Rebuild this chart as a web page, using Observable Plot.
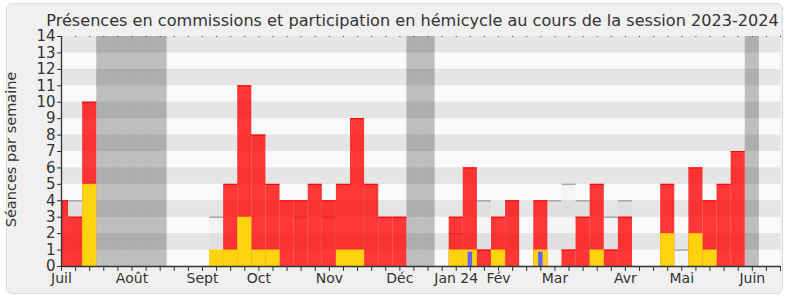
<!DOCTYPE html>
<html><head><meta charset="utf-8">
<script src="https://cdn.jsdelivr.net/npm/d3@7"></script>
<script src="https://cdn.jsdelivr.net/npm/@observablehq/plot@0.6"></script>
<style>
body{margin:0;background:#fff;font-family:"DejaVu Sans",sans-serif;}
#panel{position:absolute;left:6px;top:3px;width:775px;height:289px;background:#f0f0f0;border:1px solid #dcdcdc;border-radius:6px;}
#title{position:absolute;left:0;width:825px;top:12px;text-align:center;font-size:16.1px;color:#333;line-height:18px;white-space:nowrap;}
#chart{position:absolute;left:0;top:0;}
</style></head><body>
<div id="panel"></div>
<div id="title">Présences en commissions et participation en hémicycle au cours de la session 2023-2024</div>
<div id="chart"></div>
<script>
// Week index (0 = first week of July 2023)
const monthWeeks  = [0, 5, 10, 14, 19, 24, 28, 31, 35, 40, 44, 49];
const monthLabels = ["Juil", "Août", "Sept", "Oct", "Nov", "Déc", "Jan 24", "Fév", "Mar", "Avr", "Mai", "Juin"];
const vacationWeeks = [3, 4, 5, 6, 7, 25, 26, 49];

const commissionWeeks  = [0, 1, 2, 12, 13, 14, 15, 16, 17, 18, 19, 20, 21, 22, 23, 24, 28, 29, 30, 31, 32, 34, 36, 37, 38, 39, 40, 43, 45, 46, 47, 48];
const commissionValues = [4, 3, 10, 5, 11, 8, 5, 4, 4, 5, 4, 5, 9, 5, 3, 3, 3, 6, 1, 3, 4, 4, 1, 3, 5, 1, 3, 5, 6, 4, 5, 7];

const hemicycleWeeks  = [2, 11, 12, 13, 14, 15, 20, 21, 28, 29, 31, 34, 38, 43, 45, 46];
const hemicycleValues = [5, 1, 1, 3, 1, 1, 1, 1, 1, 1, 1, 1, 1, 2, 2, 1];

const questionWeeks  = [29, 34];
const questionValues = [1, 1];

const medianWeeks  = [1, 11, 17, 19, 28, 30, 35, 36, 37, 39, 40, 44];
const medianValues = [4, 3, 3, 3, 2, 4, 4, 5, 4, 3, 4, 1];

const yTicks = d3.range(0, 15);
const allWeeks = d3.range(0, 52);

const zip = (ws, vs) => ws.map((w, i) => ({w, v: vs[i]}));
const commission = zip(commissionWeeks, commissionValues);
const hemicycle = zip(hemicycleWeeks, hemicycleValues);
const questions = zip(questionWeeks, questionValues);
const median = zip(medianWeeks, medianValues);
const bands = d3.range(0, 14).map(k => ({k}));

const chart = Plot.plot({
  width: 790, height: 300,
  marginLeft: 61, marginRight: 10, marginTop: 36, marginBottom: 34,
  x: {domain: [0, 51]},
  y: {domain: [0, 14]},
  style: {background: "transparent", fontFamily: "DejaVu Sans", fontSize: "14px", color: "#333", overflow: "visible"},
  marks: [
    Plot.rect(bands.filter(d => d.k % 2 === 0), {y1: d => d.k, y2: d => d.k + 1, fill: "#fafafa"}),
    Plot.rect(bands.filter(d => d.k % 2 === 1), {y1: d => d.k, y2: d => d.k + 1, fill: "#e5e5e5"}),
    Plot.rect(vacationWeeks, {x1: d => d - 0.5, x2: d => d + 0.5, fill: "#000", fillOpacity: 0.24}),
    Plot.rect(median, {x1: d => d.w - 0.5, x2: d => d.w + 0.5, y1: 0, y2: "v", fill: "#000", fillOpacity: 0.022}),
    Plot.ruleY(median, {y: "v", x1: d => d.w - 0.5, x2: d => d.w + 0.5, stroke: "#a8a8a8", strokeWidth: 1.5}),
    Plot.rect(commission, {x1: d => d.w - 0.5, x2: d => d.w + 0.5, y1: 0, y2: "v", fill: "#ff0000", fillOpacity: 0.78, clip: true}),
    Plot.ruleY(commission, {y: "v", x1: d => d.w - 0.5, x2: d => d.w + 0.5, stroke: "#ff0000", strokeWidth: 1, clip: true}),
    Plot.rect(hemicycle, {x1: d => d.w - 0.5, x2: d => d.w + 0.5, y1: 0, y2: "v", fill: "#ffd30d"}),
    Plot.rect(questions, {x1: d => d.w - 0.16, x2: d => d.w + 0.16, y1: 0, y2: "v", insetTop: 2, fill: "#6464ff"}),
    Plot.axisX({ticks: allWeeks, tickSize: 5, tickFormat: () => "", label: null, stroke: "#333"}),
    Plot.axisX({anchor: "top", ticks: allWeeks, tickSize: 1, tickFormat: () => "", label: null, stroke: "#333"}),
    Plot.axisX({ticks: monthWeeks, tickSize: 0, tickPadding: 7, tickFormat: d => monthLabels[monthWeeks.indexOf(d)], label: null, fill: "#333", fontSize: 14}),
    Plot.axisY({ticks: yTicks, tickSize: 4, tickPadding: 2, tickFormat: d => String(d), label: null, stroke: "#333", fill: "#333", fontSize: 15}),
    Plot.ruleY([0], {stroke: "#333", strokeWidth: 1.3}),
    Plot.ruleX([0], {stroke: "#333", strokeWidth: 1.3}),
    Plot.text(["Séances par semaine"], {frameAnchor: "left", textAnchor: "middle", dx: -50, dy: -2, rotate: -90, fontSize: 14.5, fill: "#333"})
  ]
});
document.getElementById("chart").appendChild(chart);
</script>
</body></html>
